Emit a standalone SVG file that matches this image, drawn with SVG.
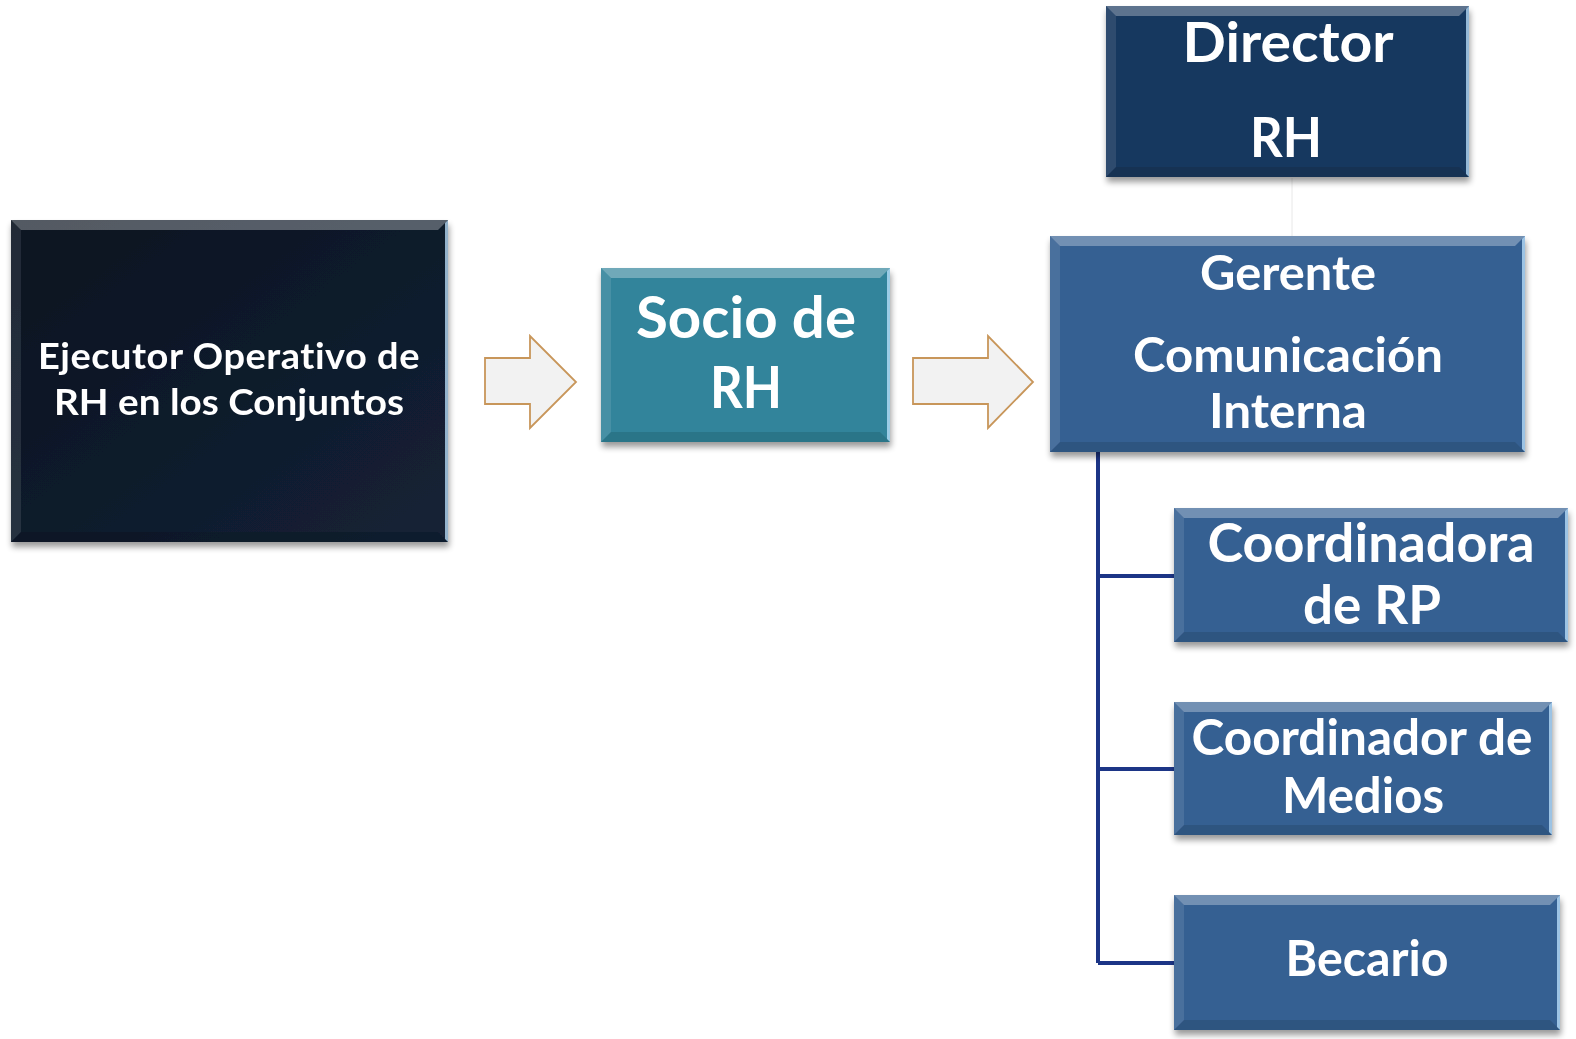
<svg xmlns="http://www.w3.org/2000/svg" width="1576" height="1039" viewBox="0 0 1576 1039">
<defs>
  <filter id="sh" x="-5%" y="-5%" width="110%" height="115%">
    <feGaussianBlur in="SourceAlpha" stdDeviation="3"/>
    <feOffset dx="1" dy="5" result="b"/>
    <feComponentTransfer><feFuncA type="linear" slope="0.4"/></feComponentTransfer>
    <feMerge><feMergeNode/><feMergeNode in="SourceGraphic"/></feMerge>
  </filter>
  <linearGradient id="gDark" x1="0" y1="0" x2="1" y2="1">
    <stop offset="0" stop-color="#0a1320"/>
    <stop offset="1" stop-color="#142236"/>
  </linearGradient>
</defs>
<style>
  .t{font-family:Lato,"Open Sans","Liberation Sans",sans-serif;font-weight:700;fill:#ffffff;text-anchor:middle;font-variant-ligatures:none;font-feature-settings:"liga" 0, "clig" 0, "dlig" 0}
  .nl{letter-spacing:0.5px}
  .hi{fill:#ffffff;opacity:0.3}
  .lf{fill:#ffffff;opacity:0.1}
  .rt{fill:#bfe4ff;opacity:0.75}
  .bt{fill:#000000;opacity:0.12}
  .arr{fill:#f2f2f2;stroke:#c8965a;stroke-width:1.8}
  .con{fill:none;stroke:#1c3586;stroke-width:4}
</style>

<g id="connectors">
  <line x1="1292" y1="178" x2="1292" y2="236" stroke="#e8e8e8" stroke-width="1"/>
  <path class="con" d="M1098,452 V963 M1098,576 H1174 M1098,769 H1174 M1098,963 H1174"/>
  <polygon class="arr" points="485,358 530,358 530,336 576,382 530,428 530,404 485,404"/>
  <polygon class="arr" points="913,358 988,358 988,336 1033,382 988,428 988,404 913,404"/>
</g>

<g id="n-ejecutor" filter="url(#sh)">
  <rect x="11" y="220" width="437" height="322" fill="url(#gDark)"/>
  <polygon class="hi" points="11,220 448,220 438,230 21,230"/>
  <polygon class="lf" points="11,220 21,230 21,532 11,542"/>
  <polygon class="rt" points="448,220 448,542 445,539 445,223"/>
  <polygon class="bt" points="11,542 448,542 438,532 21,532"/>
  <text class="t nl" x="229" y="369" font-size="36" textLength="382" lengthAdjust="spacingAndGlyphs">Ejecutor Operativo de</text>
  <text class="t" x="229" y="415" font-size="36" textLength="350" lengthAdjust="spacingAndGlyphs">RH en los Conjuntos</text>
</g>

<g id="n-socio" filter="url(#sh)">
  <rect x="601" y="268" width="289" height="174" fill="#31849b"/>
  <polygon class="hi" points="601,268 890,268 880,278 611,278"/>
  <polygon class="lf" points="601,268 611,278 611,432 601,442"/>
  <polygon class="rt" points="890,268 890,442 887,439 887,271"/>
  <polygon class="bt" points="601,442 890,442 880,432 611,432"/>
  <text class="t" x="746" y="338" font-size="58" textLength="220" lengthAdjust="spacingAndGlyphs">Socio de</text>
  <text class="t" x="746" y="408" font-size="58" textLength="72" lengthAdjust="spacingAndGlyphs">RH</text>
</g>

<g id="n-director" filter="url(#sh)">
  <rect x="1106" y="6" width="363" height="171" fill="#17375e"/>
  <polygon class="hi" points="1106,6 1469,6 1459,16 1116,16"/>
  <polygon class="lf" points="1106,6 1116,16 1116,167 1106,177"/>
  <polygon class="rt" points="1469,6 1469,177 1466,174 1466,9"/>
  <polygon class="bt" points="1106,177 1469,177 1459,167 1116,167"/>
  <text class="t" x="1288" y="62" font-size="56" textLength="211" lengthAdjust="spacingAndGlyphs">Director</text>
  <text class="t" x="1286" y="157" font-size="56" textLength="72" lengthAdjust="spacingAndGlyphs">RH</text>
</g>

<g id="n-gerente" filter="url(#sh)">
  <rect x="1050" y="236" width="475" height="216" fill="#366092"/>
  <polygon class="hi" points="1050,236 1525,236 1515,246 1060,246"/>
  <polygon class="lf" points="1050,236 1060,246 1060,442 1050,452"/>
  <polygon class="rt" points="1525,236 1525,452 1522,449 1522,239"/>
  <polygon class="bt" points="1050,452 1525,452 1515,442 1060,442"/>
  <text class="t" x="1288" y="290" font-size="47" textLength="176" lengthAdjust="spacingAndGlyphs">Gerente</text>
  <text class="t" x="1288" y="372" font-size="47" textLength="310" lengthAdjust="spacingAndGlyphs">Comunicación</text>
  <text class="t" x="1288" y="428" font-size="47" textLength="158" lengthAdjust="spacingAndGlyphs">Interna</text>
</g>

<g id="n-coordrp" filter="url(#sh)">
  <rect x="1174" y="508" width="394" height="134" fill="#366092"/>
  <polygon class="hi" points="1174,508 1568,508 1558,518 1184,518"/>
  <polygon class="lf" points="1174,508 1184,518 1184,632 1174,642"/>
  <polygon class="rt" points="1568,508 1568,642 1565,639 1565,511"/>
  <polygon class="bt" points="1174,642 1568,642 1558,632 1184,632"/>
  <text class="t" x="1371" y="562" font-size="54" textLength="327" lengthAdjust="spacingAndGlyphs">Coordinadora</text>
  <text class="t" x="1372" y="624" font-size="54" textLength="138" lengthAdjust="spacingAndGlyphs">de RP</text>
</g>

<g id="n-medios" filter="url(#sh)">
  <rect x="1174" y="702" width="378" height="133" fill="#366092"/>
  <polygon class="hi" points="1174,702 1552,702 1542,712 1184,712"/>
  <polygon class="lf" points="1174,702 1184,712 1184,825 1174,835"/>
  <polygon class="rt" points="1552,702 1552,835 1549,832 1549,705"/>
  <polygon class="bt" points="1174,835 1552,835 1542,825 1184,825"/>
  <text class="t" x="1362" y="755" font-size="49" textLength="341" lengthAdjust="spacingAndGlyphs">Coordinador de</text>
  <text class="t" x="1363" y="813" font-size="49" textLength="162" lengthAdjust="spacingAndGlyphs">Medios</text>
</g>

<g id="n-becario" filter="url(#sh)">
  <rect x="1174" y="895" width="386" height="135" fill="#366092"/>
  <polygon class="hi" points="1174,895 1560,895 1550,905 1184,905"/>
  <polygon class="lf" points="1174,895 1184,905 1184,1020 1174,1030"/>
  <polygon class="rt" points="1560,895 1560,1030 1557,1027 1557,898"/>
  <polygon class="bt" points="1174,1030 1560,1030 1550,1020 1184,1020"/>
  <text class="t" x="1367" y="976" font-size="49" textLength="163" lengthAdjust="spacingAndGlyphs">Becario</text>
</g>
</svg>
